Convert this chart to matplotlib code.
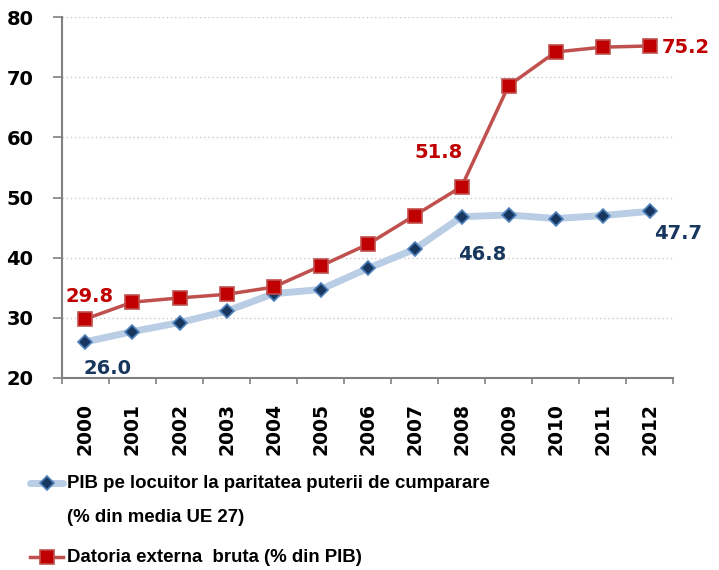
import matplotlib
matplotlib.use("Agg")
import matplotlib.pyplot as plt
from matplotlib.lines import Line2D

years = ["2000", "2001", "2002", "2003", "2004", "2005", "2006",
         "2007", "2008", "2009", "2010", "2011", "2012"]
pib = [26.0, 27.7, 29.2, 31.1, 34.0, 34.7, 38.2, 41.4, 46.8, 47.1, 46.5, 47.0, 47.7]
datorie = [29.8, 32.6, 33.3, 33.9, 35.1, 38.6, 42.2, 47.0, 51.8, 68.6, 74.2, 75.0, 75.2]
yticks = [20, 30, 40, 50, 60, 70, 80]

label_pib_1 = "PIB pe locuitor la paritatea puterii de cumparare"
label_pib_2 = "(% din media UE 27)"
label_dat = "Datoria externa  bruta (% din PIB)"

plt.rcParams['font.family'] = ['DejaVu Sans']

W, H = 719, 570
fig = plt.figure(figsize=(W / 100, H / 100), dpi=100)
ax = fig.add_axes([0.0862, 0.337, 0.850, 0.633])

x = list(range(len(years)))
blue_line = "#b9cde5"
blue_face = "#17375e"
blue_edge = "#4f81bd"
red_line = "#c0504d"
red_face = "#c00000"

ax.plot(x, pib, color=blue_line, lw=5, marker='D', ms=7, mfc=blue_face,
        mec=blue_edge, mew=1.2, zorder=3, solid_capstyle='round')
ax.plot(x, datorie, color=red_line, lw=2.5, marker='s', ms=10, mfc=red_face,
        mec=red_line, mew=1.2, zorder=4)

ax.set_xlim(-0.5, len(years) - 0.5)
ax.set_ylim(20, 80)
ax.set_yticks(yticks)
ax.set_yticklabels([str(v) for v in yticks], fontsize=14, fontweight='bold')
ax.set_xticks([i - 0.5 for i in range(len(years) + 1)], minor=False)
ax.set_xticklabels([])
ax.set_xticks(x, minor=True)
ax.set_xticklabels(years, minor=True, rotation=90, fontsize=13.5, fontweight='bold')
ax.tick_params(axis='x', which='minor', length=0, pad=18)
ax.tick_params(axis='x', which='major', length=4, color='#808080', width=1.2)
ax.tick_params(axis='y', length=6.5, color='#808080', width=1.2, pad=14)

for v in yticks[1:]:
    ax.axhline(v, color='#c8c8c8', lw=1, ls=(0, (1, 2)), zorder=1)

for s in ['top', 'right']:
    ax.spines[s].set_visible(False)
for s in ['left', 'bottom']:
    ax.spines[s].set_color('#808080')
    ax.spines[s].set_linewidth(1.5)

def lab(i, vals, color, dx, dy, ha='center'):
    ax.annotate(f"{vals[i]:.1f}", (x[i], vals[i]), xytext=(dx, dy),
                textcoords='offset pixels', ha=ha, va='center', color=color,
                fontsize=14, fontweight='bold', zorder=5)

lab(0, datorie, red_face, 4, 22)
lab(8, datorie, red_face, -23, 34)
lab(12, datorie, red_face, 12, -2, ha='left')
lab(0, pib, blue_face, 22, -27)
lab(8, pib, blue_face, 21, -38)
lab(12, pib, blue_face, 28, -22)

# manual legend (figure pixel coordinates, y from top)
def fx(px):
    return px / W

def fy(py):
    return 1 - py / H

leg_font = dict(family=['Liberation Sans', 'DejaVu Sans'], fontweight='bold',
                fontsize=13.4, va='center', ha='left')
fig.add_artist(Line2D([fx(30), fx(63)], [fy(483), fy(483)], color=blue_line,
                      lw=5, solid_capstyle='round'))
fig.add_artist(Line2D([fx(47)], [fy(483)], marker='D', ms=7, mfc=blue_face,
                      mec=blue_edge, mew=1.2, ls='none'))
fig.add_artist(Line2D([fx(30), fx(63)], [fy(557), fy(557)], color=red_line, lw=2.5))
fig.add_artist(Line2D([fx(47)], [fy(557)], marker='s', ms=10, mfc=red_face,
                      mec=red_line, mew=1.2, ls='none'))
fig.text(fx(67), fy(484), label_pib_1, **leg_font)
fig.text(fx(67), fy(518), label_pib_2, **leg_font)
fig.text(fx(67), fy(558), label_dat, **leg_font)

fig.savefig("out.png", dpi=100)
